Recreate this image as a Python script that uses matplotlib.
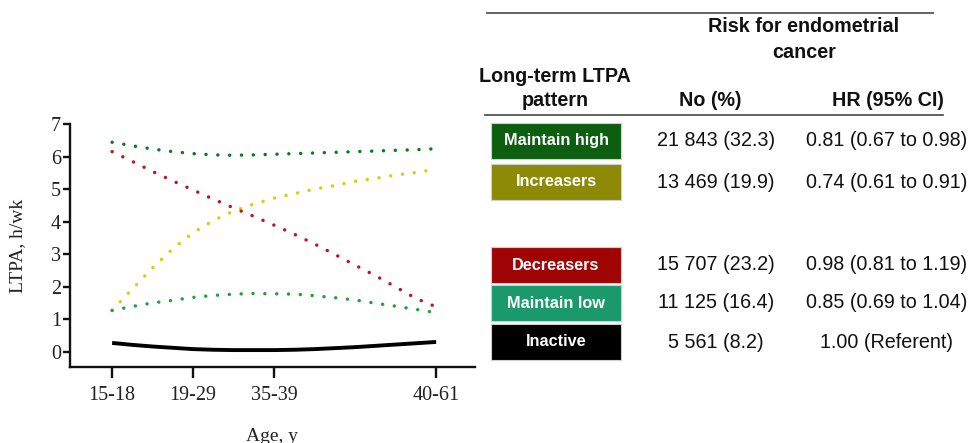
import matplotlib
matplotlib.use("Agg")
import matplotlib.pyplot as plt
from matplotlib.patches import Rectangle
from matplotlib.lines import Line2D

# ---------------- data ----------------
age_groups = ["15-18", "19-29", "35-39", "40-61"]
age_tick_pos = [0, 1, 2, 4]
x_grid = [0, 0.25, 0.5, 0.75, 1.0, 1.25, 1.5, 1.75, 2.0,
          2.25, 2.5, 2.75, 3.0, 3.25, 3.5, 3.75, 4.0]

maintain_high = [6.44, 6.33, 6.23, 6.15, 6.09, 6.05, 6.04, 6.05, 6.07,
                 6.09, 6.11, 6.13, 6.15, 6.17, 6.19, 6.21, 6.24]
increasers = [1.27, 1.93, 2.58, 3.17, 3.66, 4.03, 4.33, 4.54, 4.72,
              4.86, 5.00, 5.11, 5.24, 5.33, 5.43, 5.51, 5.61]
decreasers = [6.15, 5.85, 5.54, 5.25, 4.97, 4.69, 4.42, 4.16, 3.89,
              3.61, 3.31, 2.99, 2.66, 2.34, 1.99, 1.64, 1.38]
maintain_low = [1.27, 1.39, 1.50, 1.58, 1.67, 1.73, 1.77, 1.79, 1.78,
                1.77, 1.72, 1.66, 1.59, 1.49, 1.40, 1.30, 1.20]
inactive = [0.27, 0.21, 0.16, 0.12, 0.08, 0.06, 0.05, 0.05, 0.05,
            0.06, 0.08, 0.11, 0.14, 0.18, 0.22, 0.26, 0.30]

patterns = ["Maintain high", "Increasers", "Decreasers", "Maintain low", "Inactive"]
n_cases = ["21 843 (32.3)", "13 469 (19.9)", "15 707 (23.2)", "11 125 (16.4)", "5 561 (8.2)"]
hr_ci = ["0.81 (0.67 to 0.98)", "0.74 (0.61 to 0.91)", "0.98 (0.81 to 1.19)",
         "0.85 (0.69 to 1.04)", "1.00 (Referent)"]

# ---------------- styles ----------------
dot_colors = {"Maintain high": "#0b7a1c", "Increasers": "#d2d20a",
              "Decreasers": "#c0141c", "Maintain low": "#22a03a"}
box_colors = ["#0e5e12", "#8c8a06", "#a00404", "#1a9a6c", "#000000"]

SERIF = "Liberation Serif"
SANS = "Liberation Sans"

W, H = 973, 443
fig = plt.figure(figsize=(W / 100, H / 100), dpi=100)

# axes placement (pixel-derived)
ax_left, ax_right, ax_top, ax_bottom = 70, 475, 124, 367
ax = fig.add_axes([ax_left / W, 1 - ax_bottom / H,
                   (ax_right - ax_left) / W, (ax_bottom - ax_top) / H])

dot_style = dict(linestyle=(0, (0.01, 3.4)), dash_capstyle="round", lw=2.5)
ax.plot(x_grid, maintain_high, color=dot_colors["Maintain high"], **dot_style)
ax.plot(x_grid, increasers, color=dot_colors["Increasers"], **dot_style)
ax.plot(x_grid, decreasers, color=dot_colors["Decreasers"], **dot_style)
ax.plot(x_grid, maintain_low, color=dot_colors["Maintain low"], **dot_style)
ax.plot(x_grid, inactive, color="black", lw=2.8, solid_capstyle="butt")

ax.set_xlim(-0.52, 4.48)
ax.set_ylim(-0.47, 7)
ax.set_xticks(age_tick_pos)
ax.set_xticklabels(age_groups, fontfamily=SERIF, fontsize=14.5, color="#222222")
ax.set_yticks(range(0, 8))
ax.set_yticklabels([str(v) for v in range(0, 8)], fontfamily=SERIF, fontsize=14.5,
                   color="#222222")
for s in ["top", "right"]:
    ax.spines[s].set_visible(False)
for s in ["left", "bottom"]:
    ax.spines[s].set_linewidth(1.7)
    ax.spines[s].set_color("#111111")
ax.tick_params(axis="x", length=8, width=1.7, pad=6, color="#111111")
ax.tick_params(axis="y", length=5, width=1.7, pad=1.5, color="#111111")
ax.set_xlabel("Age, y", fontfamily=SERIF, fontsize=14, labelpad=16, color="#222222")
ax.set_ylabel("LTPA, h/wk", fontfamily=SERIF, fontsize=14, labelpad=18, color="#222222")

# ---------------- table ----------------
def fx(px):
    return px / W

def fy(py):
    return 1 - py / H

# rules
fig.add_artist(Line2D([fx(487), fx(933)], [fy(13), fy(13)], color="#555555", lw=1.3))
fig.add_artist(Line2D([fx(485), fx(943)], [fy(115), fy(115)], color="#555555", lw=1.3))

hdr = dict(fontfamily=SANS, fontweight="bold", fontsize=14.2, color="#111111",
           ha="center", va="center")
fig.text(fx(804), fy(27), "Risk for endometrial", **hdr)
fig.text(fx(804), fy(53), "cancer", **hdr)
fig.text(fx(555), fy(76), "Long-term LTPA", **hdr)
fig.text(fx(555), fy(100), "pattern", **hdr)
fig.text(fx(710), fy(100), "No (%)", **hdr)
fig.text(fx(888), fy(100), "HR (95% CI)", **hdr)

box_tops = [123, 164, 247, 285, 324]
box_h = 36
box_x0, box_w = 491, 130
row_centers = [141, 182, 264, 303, 342]
for i, name in enumerate(patterns):
    rect = Rectangle((fx(box_x0), fy(box_tops[i] + box_h)), box_w / W, box_h / H,
                     transform=fig.transFigure, facecolor=box_colors[i],
                     edgecolor="#cfcfcf", lw=0.8)
    fig.add_artist(rect)
    fig.text(fx(box_x0 + box_w / 2), fy(box_tops[i] + box_h / 2), name,
             fontfamily=SANS, fontweight="bold", fontsize=11.7, color="white",
             ha="center", va="center")
    fig.text(fx(716), fy(row_centers[i]), n_cases[i], fontfamily=SANS,
             fontsize=14.2, color="#111111", ha="center", va="center")
    fig.text(fx(887), fy(row_centers[i]), hr_ci[i], fontfamily=SANS,
             fontsize=14.2, color="#111111", ha="center", va="center")

fig.savefig("out.png", dpi=100, facecolor="white")
